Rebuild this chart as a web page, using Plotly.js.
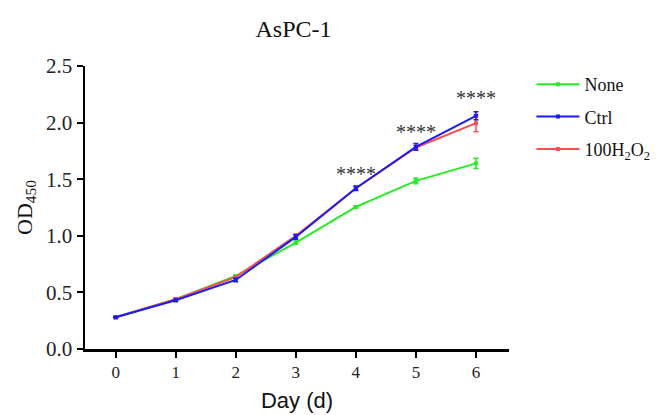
<!DOCTYPE html>
<html>
<head>
<meta charset="utf-8">
<script src="https://cdn.plot.ly/plotly-3.0.1.min.js"></script>
<style>html,body{margin:0;padding:0;background:#fff;}#chart{width:667px;height:415px;}</style>
</head>
<body>
<div id="chart"></div>
<script>
const days = [0, 1, 2, 3, 4, 5, 6];
const seriesNames = ["None", "Ctrl", "100H<sub>2</sub>O<sub>2</sub>"];
const noneVals = [0.28, 0.44, 0.645, 0.94, 1.255, 1.485, 1.64];
const noneErr  = [0.005, 0.01, 0.01, 0.015, 0.01, 0.025, 0.045];
const ctrlVals = [0.28, 0.43, 0.61, 0.99, 1.42, 1.785, 2.06];
const ctrlErr  = [0.005, 0.01, 0.015, 0.02, 0.02, 0.03, 0.035];
const h2o2Vals = [0.28, 0.44, 0.635, 1.0, 1.42, 1.78, 1.995];
const h2o2Err  = [0.005, 0.01, 0.01, 0.015, 0.015, 0.02, 0.075];
const colors = ["#22ee22", "#1a1aff", "#ff4d4d"];
const sigDays = [4, 5, 6];
const sigLabels = ["****", "****", "****"];
const sigY = [1.55, 1.92, 2.22];

function mk(name, y, err, color, rank) {
  return {
    x: days, y: y, name: name, type: "scatter", mode: "lines+markers",
    legendrank: rank, legendgroup: "g" + rank,
    line: {color: color, width: 2},
    marker: {color: color, size: 4, symbol: "square"},
    error_y: {type: "data", array: err, visible: true, color: color, thickness: 1.5, width: 2.5}
  };
}
const data = [
  mk(seriesNames[0], noneVals, noneErr, colors[0], 1),
  mk(seriesNames[2], h2o2Vals, h2o2Err, colors[2], 3),
  mk(seriesNames[1], ctrlVals, ctrlErr, colors[1], 2)
];
const tf = "Liberation Serif, Times New Roman, serif";
const layout = {
  width: 667, height: 415,
  margin: {l: 85, r: 156, t: 66, b: 66},
  paper_bgcolor: "#fff", plot_bgcolor: "#fff",
  title: {text: "AsPC-1", font: {family: tf, size: 24, color: "#111"}, x: 0.44, xanchor: "center", y: 0.93, yanchor: "middle"},
  xaxis: {
    range: [-0.51, 6.55], tickvals: days, ticktext: days.map(String),
    showgrid: false, zeroline: false, showline: true, linecolor: "#000", linewidth: 2.5,
    ticks: "outside", ticklen: 6, tickwidth: 2, tickcolor: "#000",
    tickfont: {family: tf, size: 17, color: "#222"},
    title: {text: "Day (d)", font: {family: "Liberation Sans, Arial, sans-serif", size: 22, color: "#111"}, standoff: 12}
  },
  yaxis: {
    range: [0, 2.5], tickvals: [0, 0.5, 1, 1.5, 2, 2.5], tickformat: ".1f",
    showgrid: false, zeroline: false, showline: true, linecolor: "#000", linewidth: 2.5,
    ticks: "outside", ticklen: 6, tickwidth: 2, tickcolor: "#000",
    tickfont: {family: tf, size: 21, color: "#222"},
    title: {text: "OD<sub>450</sub>", font: {family: tf, size: 22, color: "#111"}, standoff: 8}
  },
  legend: {x: 1.053, y: 1.0, xanchor: "left", yanchor: "top", font: {family: tf, size: 18, color: "#111"},
    tracegroupgap: 6, itemwidth: 43, bgcolor: "rgba(0,0,0,0)"},
  annotations: sigDays.map((d, i) => ({x: d, y: sigY[i], xref: "x", yref: "y", text: sigLabels[i], showarrow: false,
    font: {family: tf, size: 20, color: "#333"}}))
};
Plotly.newPlot("chart", data, layout, {displayModeBar: false, staticPlot: true});
</script>
</body>
</html>
